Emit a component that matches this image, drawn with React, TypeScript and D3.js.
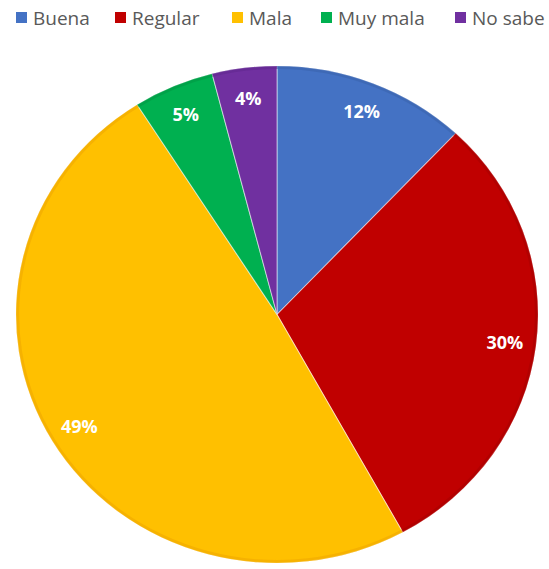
import React, { useEffect, useRef } from "react";
import * as d3 from "d3";

const categories = ["Buena", "Regular", "Mala", "Muy mala", "No sabe"];
const values = [12, 30, 49, 5, 4];
const labels = ["12%", "30%", "49%", "5%", "4%"];
const colors = ["#4472C4", "#C00000", "#FFC000", "#00B050", "#7030A0"];
const edgeColors = ["#3b64ad", "#a80000", "#f0a800", "#009a45", "#612890"];

const W = 549;
const H = 569;
const CX = 277;
const CY = 314.5;
const RX = 261;
const RY = 248.5;
const legendTextX = [33, 132, 249, 338, 472];

export default function App() {
  const ref = useRef<SVGSVGElement | null>(null);
  useEffect(() => {
    const svg = d3.select(ref.current);
    svg.selectAll("*").remove();
    const pie = d3.pie<number>().sort(null).value((d) => d);
    const arcs = pie(values);
    const r = RY;
    const arc = d3.arc<d3.PieArcDatum<number>>().innerRadius(0).outerRadius(r);
    const rim = d3.arc<d3.PieArcDatum<number>>().innerRadius(r - 3).outerRadius(r);
    const g = svg
      .append("g")
      .attr("transform", `translate(${CX},${CY}) scale(${RX / RY},1)`);
    g.selectAll("path.slice")
      .data(arcs)
      .enter()
      .append("path")
      .attr("class", "slice")
      .attr("d", arc)
      .attr("fill", (_, i) => colors[i])
      .attr("stroke", "#ffffff")
      .attr("stroke-width", 1)
      .attr("stroke-opacity", 0.5);
    g.selectAll("path.rim")
      .data(arcs)
      .enter()
      .append("path")
      .attr("class", "rim")
      .attr("d", rim)
      .attr("fill", (_, i) => edgeColors[i])
      .attr("opacity", 0.6);
    const labelArc = d3.arc<d3.PieArcDatum<number>>().innerRadius(r * 0.88).outerRadius(r * 0.88);
    const lg = svg.append("g").attr("transform", `translate(${CX},${CY})`);
    lg.selectAll("text")
      .data(arcs)
      .enter()
      .append("text")
      .attr("x", (d) => labelArc.centroid(d)[0] * (RX / RY))
      .attr("y", (d) => labelArc.centroid(d)[1])
      .attr("text-anchor", "middle")
      .attr("dominant-baseline", "central")
      .attr("fill", "#ffffff")
      .attr("font-family", "'Open Sans', sans-serif")
      .attr("font-weight", "bold")
      .attr("font-size", 18)
      .text((_, i) => labels[i]);
    const leg = svg.append("g");
    categories.forEach((c, i) => {
      leg
        .append("rect")
        .attr("x", legendTextX[i] - 17)
        .attr("y", 12)
        .attr("width", 11)
        .attr("height", 11)
        .attr("fill", colors[i]);
      leg
        .append("text")
        .attr("x", legendTextX[i])
        .attr("y", 18)
        .attr("dominant-baseline", "central")
        .attr("fill", "#595959")
        .attr("font-family", "'Open Sans', sans-serif")
        .attr("font-size", 19)
        .text(c);
    });
  }, []);
  return (
    <svg
      ref={ref}
      width={W}
      height={H}
      style={{ position: "absolute", left: 0, top: 0, background: "#ffffff" }}
    />
  );
}
